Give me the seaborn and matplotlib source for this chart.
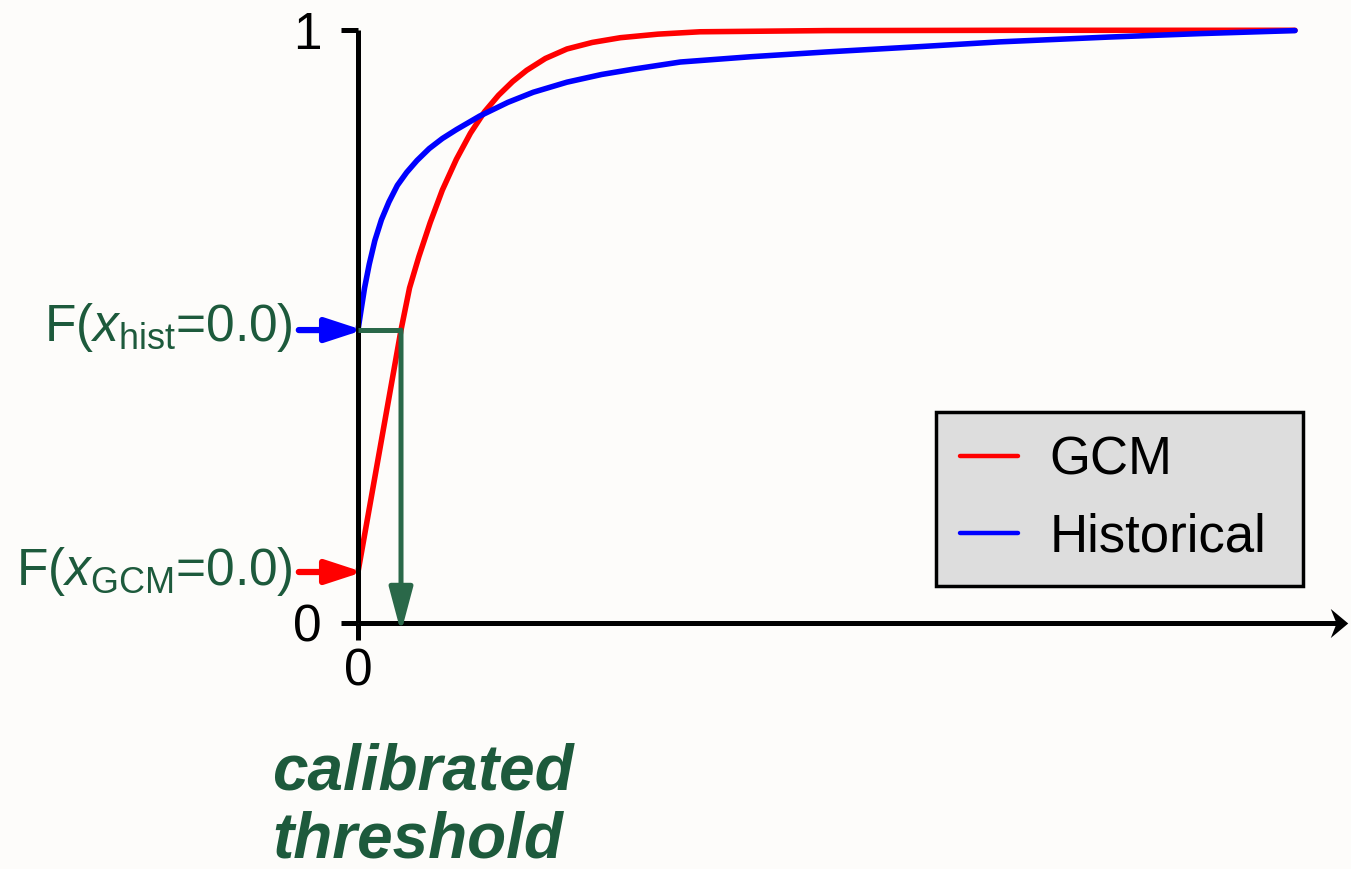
import numpy as np
import pandas as pd
import matplotlib
matplotlib.use("Agg")
import matplotlib.pyplot as plt
from matplotlib.lines import Line2D
from matplotlib.path import Path
import seaborn as sns

# Empirical CDF samples (x in arbitrary units, F in [0, 1])
gcm_x = [0.0, 0.459, 0.55, 0.65, 0.77, 0.90, 1.05, 1.20, 1.35, 1.50, 1.65,
         1.80, 2.00, 2.23, 2.50, 2.80, 3.20, 3.65, 5.0, 7.0, 10.0]
gcm_f = [0.086, 0.494, 0.565, 0.618, 0.675, 0.730, 0.782, 0.826, 0.862, 0.890,
         0.913, 0.932, 0.952, 0.968, 0.979, 0.987, 0.993, 0.997, 0.999, 0.9995,
         0.9995]

hist_x = [0.0, 0.03, 0.07, 0.12, 0.18, 0.25, 0.33, 0.42, 0.52, 0.63, 0.76,
          0.90, 1.05, 1.30, 1.60, 1.87, 2.23, 2.60, 2.94, 3.44, 4.2, 5.0, 6.0,
          6.85, 8.0, 9.0, 10.0]
hist_f = [0.494, 0.525, 0.565, 0.605, 0.645, 0.680, 0.710, 0.738, 0.760, 0.780,
          0.800, 0.817, 0.832, 0.855, 0.878, 0.895, 0.912, 0.925, 0.934, 0.946,
          0.955, 0.963, 0.972, 0.980, 0.988, 0.994, 0.999]

series_names = ["GCM", "Historical"]
series_colors = {"GCM": "#ff0000", "Historical": "#0000ff"}

# Probability of zero in each series and the calibrated threshold
f_gcm_zero = gcm_f[0]
f_hist_zero = hist_f[0]
threshold_x = gcm_x[1]

BG = "#fdfcfa"
TEXT_GREEN = "#1d5a3c"
LINE_GREEN = "#2a6849"

df = pd.concat([
    pd.DataFrame({"x": gcm_x, "F": gcm_f, "series": "GCM"}),
    pd.DataFrame({"x": hist_x, "F": hist_f, "series": "Historical"}),
], ignore_index=True)

sns.set_theme(style="white")
plt.rcParams["font.family"] = ["Liberation Sans", "DejaVu Sans"]
plt.rcParams["mathtext.fontset"] = "custom"
plt.rcParams["mathtext.rm"] = "Liberation Sans"
plt.rcParams["mathtext.it"] = "Liberation Sans:italic"
plt.rcParams["text.color"] = "black"

W, H = 1351, 869
fig = plt.figure(figsize=(W / 100, H / 100), dpi=100)
fig.patch.set_facecolor(BG)
ax = fig.add_axes([0, 0, 1, 1])
ax.set_facecolor(BG)

# pixel layout of the data frame
x0_px, x10_px = 358, 1295
y0_px, y1_px = 623, 30
sx = (x10_px - x0_px) / 10.0
sy = (y0_px - y1_px) / 1.0
ax.set_xlim(-x0_px / sx, (W - x0_px) / sx)
ax.set_ylim(-(H - y0_px) / sy, y0_px / sy)

sns.lineplot(data=df, x="x", y="F", hue="series", palette=series_colors,
             estimator=None, sort=False, linewidth=4.0, legend=False, ax=ax,
             solid_capstyle="round", solid_joinstyle="round")

# Axes: spines through the origin, arrow at the end of the x axis
for s in ["top", "right"]:
    ax.spines[s].set_visible(False)
x_axis_end = (1340 - x0_px) / sx
ax.spines["left"].set_position(("data", 0))
ax.spines["left"].set_bounds(0, 1)
ax.spines["bottom"].set_position(("data", 0))
ax.spines["bottom"].set_bounds(0, x_axis_end)
for s in ["left", "bottom"]:
    ax.spines[s].set_linewidth(3.6)
    ax.spines[s].set_color("black")
    ax.spines[s].set_capstyle("butt")

stealth = Path([(0.6, 0.0), (-0.6, 1.0), (-0.2, 0.0), (-0.6, -1.0), (0.6, 0.0)],
               [Path.MOVETO, Path.LINETO, Path.LINETO, Path.LINETO, Path.CLOSEPOLY])
ax.plot([(1339 - x0_px) / sx], [0], marker=stealth, markersize=21, color="black",
        markeredgewidth=0, clip_on=False, zorder=5)

ax.set_yticks([0, 1])
ax.set_yticklabels(["0", "1"])
ax.set_xticks([0])
ax.set_xticklabels(["0"])
ax.tick_params(axis="y", direction="out", length=12, width=3.6, pad=14,
               labelsize=37, colors="black", left=True)
ax.tick_params(axis="x", direction="out", length=12, width=3.6, pad=6,
               labelsize=37, colors="black", bottom=True)
ax.set_xlabel("")
ax.set_ylabel("")
ax.grid(False)

# Threshold construction: horizontal from F_hist(0) to GCM curve, then down
ax.plot([0, threshold_x], [f_hist_zero, f_hist_zero], color=LINE_GREEN,
        linewidth=3.6, solid_capstyle="butt", zorder=3)
ax.annotate("", xy=(threshold_x, -0.016), xytext=(threshold_x, f_hist_zero),
            arrowprops=dict(arrowstyle="-|>,head_length=2.7,head_width=0.72",
                            mutation_scale=10, color=LINE_GREEN, lw=3.6,
                            shrinkA=0, shrinkB=0), zorder=3)

# Arrows pointing at the zero-probabilities on the y axis
for fval, col in [(f_hist_zero, series_colors["Historical"]),
                  (f_gcm_zero, series_colors["GCM"])]:
    ax.annotate("", xy=(0.05, fval), xytext=(-46, 0), textcoords="offset points",
                arrowprops=dict(arrowstyle="-|>,head_length=2.2,head_width=0.72",
                                mutation_scale=10, color=col, lw=4.5,
                                shrinkA=0, shrinkB=0), zorder=4)

ax.annotate(r"F($x_{\mathrm{hist}}$=0.0)", xy=(0, f_hist_zero), xytext=(-47, -8),
            textcoords="offset points", ha="right", va="baseline",
            fontsize=37, color=TEXT_GREEN)
ax.annotate(r"F($x_{\mathrm{GCM}}$=0.0)", xy=(0, f_gcm_zero), xytext=(-47, -9),
            textcoords="offset points", ha="right", va="baseline",
            fontsize=37, color=TEXT_GREEN)

fig.text(272 / W, 1 - 790 / H, "calibrated", ha="left", va="baseline",
         fontsize=46, fontweight="bold", fontstyle="italic", color=TEXT_GREEN)
fig.text(272 / W, 1 - 858 / H, "threshold", ha="left", va="baseline",
         fontsize=46, fontweight="bold", fontstyle="italic", color=TEXT_GREEN)

handles = [Line2D([], [], color=series_colors[n], lw=3.2) for n in series_names]
leg = ax.legend(handles, series_names, loc="upper left",
                bbox_to_anchor=(936 / W, 1 - 582 / H, (1303 - 936) / W, (582 - 412) / H),
                bbox_transform=fig.transFigure, mode="expand",
                borderaxespad=0, fontsize=38, handlelength=1.1, handletextpad=0.6,
                borderpad=0.45, labelspacing=0.5, frameon=True, fancybox=False,
                framealpha=1.0, facecolor="#dddddd", edgecolor="black",
                labelcolor="black")
leg.get_frame().set_linewidth(2.5)

fig.savefig("out.png", dpi=100, facecolor=BG)
